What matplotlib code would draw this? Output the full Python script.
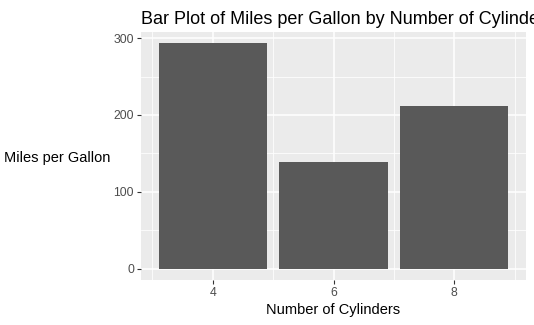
import matplotlib

matplotlib.use("Agg")
import matplotlib.pyplot as plt
import numpy as np

# total mpg per cylinder group
CYLINDERS = [4, 6, 8]
MPG_TOTALS = [293.3, 138.2, 211.4]
Y_TICKS = [0, 100, 200, 300]
Y_MINOR = [50, 150, 250]
X_MINOR = [3, 5, 7, 9]

plt.rcParams["font.family"] = ["Liberation Sans", "DejaVu Sans"]

figure = plt.figure(figsize=(5.34, 3.25), dpi=100)
axis = figure.add_axes([141 / 534, 45 / 325, 385 / 534, 248 / 325])
axis.set_facecolor("#EBEBEB")

bar_width = 0.9 * (CYLINDERS[1] - CYLINDERS[0])
axis.bar(CYLINDERS, MPG_TOTALS, width=bar_width, color="#595959", zorder=3)

x_low = min(CYLINDERS) - bar_width / 2
x_high = max(CYLINDERS) + bar_width / 2
x_pad = (x_high - x_low) * 0.05
axis.set_xlim(x_low - x_pad, x_high + x_pad)
y_pad = max(MPG_TOTALS) * 0.05
axis.set_ylim(-y_pad, max(MPG_TOTALS) + y_pad)

axis.set_xticks(CYLINDERS, [str(c) for c in CYLINDERS])
axis.set_yticks(Y_TICKS)
axis.set_xticks(X_MINOR, minor=True)
axis.set_yticks(Y_MINOR, minor=True)
axis.grid(which="major", color="white", linewidth=1.1, zorder=1)
axis.grid(which="minor", color="white", linewidth=0.55, zorder=1)
axis.set_axisbelow(True)

for spine in axis.spines.values():
    spine.set_visible(False)
axis.tick_params(which="major", length=3, width=0.8, color="#333333",
                 labelcolor="#4D4D4D", labelsize=8.8, pad=2)
axis.tick_params(which="minor", length=0)

axis.set_xlabel("Number of Cylinders", fontsize=10.5, color="black", labelpad=3)
axis.set_ylabel("Miles per Gallon", fontsize=10.5, color="black",
                rotation=0, ha="right", va="center")
axis.yaxis.set_label_coords(-0.08, 0.49)
# the reference title runs past the right edge too
axis.set_title("Bar Plot of Miles per Gallon by Number of Cylinders",
               fontsize=13, loc="left", pad=6)

figure.savefig("out.png", dpi=100)
